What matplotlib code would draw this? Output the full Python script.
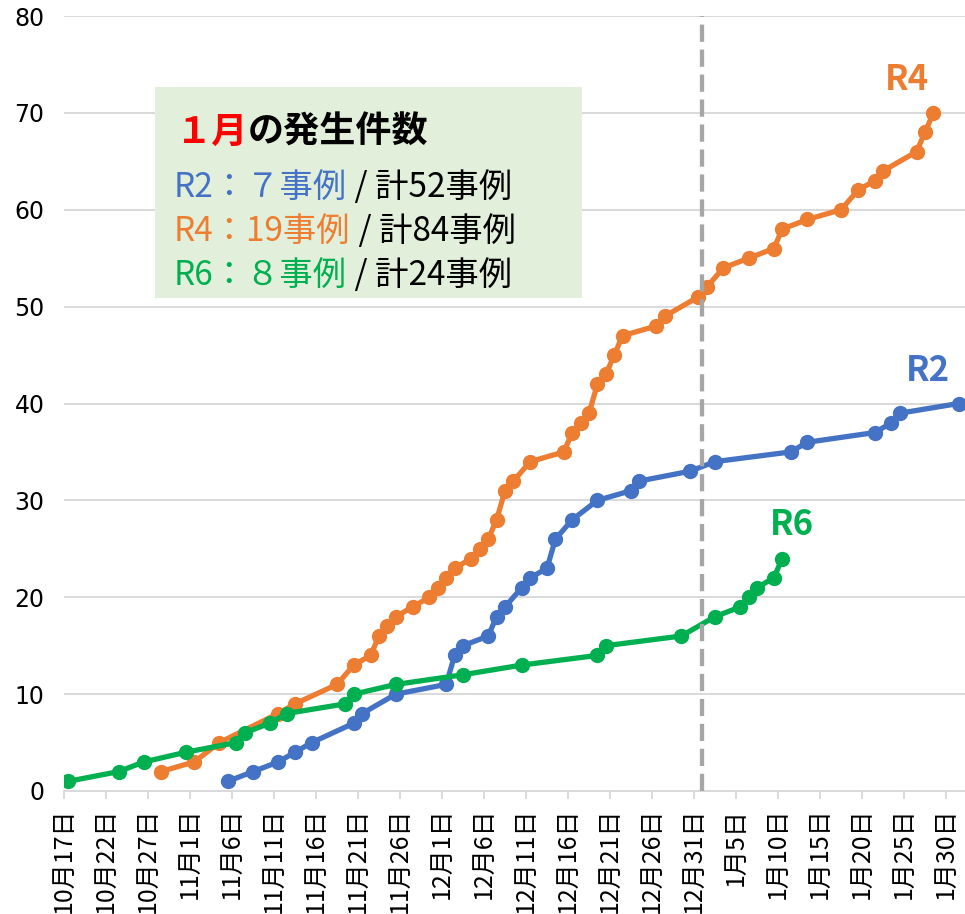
import datetime as dt
import numpy as np
import matplotlib
matplotlib.use("Agg")
import matplotlib.pyplot as plt

plt.rcParams['font.family'] = ['Noto Sans CJK JP', 'DejaVu Sans']

# day 0 = 10月17日 (year only used to roll over into January)
start = dt.date(2000, 10, 17)
tick_step = 5
n_ticks = 22

# days since 10月17日 and cumulative case counts
r2_days = [19, 22, 25, 27, 29, 34, 35, 39, 45, 46, 47, 50, 51, 52, 54, 55, 57, 58, 60,
           63, 67, 68, 74, 77, 86, 88, 96, 98, 99, 106]
r2_vals = [1, 2, 3, 4, 5, 7, 8, 10, 11, 14, 15, 16, 18, 19, 21, 22, 23, 26, 28,
           30, 31, 32, 33, 34, 35, 36, 37, 38, 39, 40]

r4_days = [11, 15, 18, 25, 27, 32, 34, 36, 37, 38, 39, 41, 43, 44, 45, 46, 48, 49, 50,
           51, 52, 53, 55, 59, 60, 61, 62, 63, 64, 65, 66, 70, 71, 75, 76, 78, 81, 84,
           85, 88, 92, 94, 96, 97, 101, 102, 103]
r4_vals = [2, 3, 5, 8, 9, 11, 13, 14, 16, 17, 18, 19, 20, 21, 22, 23, 24, 25, 26,
           28, 31, 32, 34, 35, 37, 38, 39, 42, 43, 45, 47, 48, 49, 51, 52, 54, 55, 56,
           58, 59, 60, 62, 63, 64, 66, 68, 70]

r6_days = [0, 6, 9, 14, 20, 21, 24, 26, 33, 34, 39, 47, 54, 63, 64, 73, 77, 80, 81,
           82, 84, 85]
r6_vals = [1, 2, 3, 4, 5, 6, 7, 8, 9, 10, 11, 12, 13, 14, 15, 16, 18, 19, 20, 21,
           22, 24]

series = [
    ('R2', r2_days, r2_vals, '#4472C4'),
    ('R4', r4_days, r4_vals, '#ED7D31'),
    ('R6', r6_days, r6_vals, '#00B050'),
]

tick_dates = [start + dt.timedelta(days=tick_step * i) for i in range(n_ticks)]
tick_labels = [f"{d.month}月{d.day}日" for d in tick_dates]
jan1 = (dt.date(2001, 1, 1) - start).days

W, H = 965, 914
fig = plt.figure(figsize=(W / 100, H / 100), dpi=100)
ax = fig.add_axes([64 / W, 1 - 791 / H, (964.5 - 64) / W, (791 - 16) / H])

grid_c = '#d9d9d9'
for name, days, vals, color in series:
    # each date sits in the middle of its day slot
    ax.plot(np.array(days) + 0.5, vals, color=color, lw=3.8, marker='o',
            markersize=10, solid_capstyle='round', zorder=3)

ax.axvline(jan1, color='#a6a6a6', lw=3.1, dashes=(4.0, 1.8), zorder=4)

ax.set_xlim(0, 107.2)
ax.set_ylim(0, 80)
ax.set_yticks(np.arange(0, 81, 10))
ax.set_xticks(np.arange(n_ticks) * tick_step)
ax.set_xticklabels(tick_labels, rotation=90, fontsize=18)
for lab in ax.get_yticklabels():
    lab.set_fontfamily('DejaVu Sans')
    lab.set_fontsize(17)
ax.tick_params(axis='y', length=0, pad=14)
ax.tick_params(axis='x', length=6, width=1.4, color=grid_c, pad=6)
ax.grid(axis='y', color=grid_c, lw=1.4)
ax.set_axisbelow(True)
for s in ['top', 'right', 'left']:
    ax.spines[s].set_visible(False)
ax.spines['bottom'].set_color(grid_c)
ax.spines['bottom'].set_linewidth(1.4)

# series labels
ax.text(100.4, 73.4, 'R4', color='#ED7D31', fontsize=25, fontweight='bold',
        ha='center', va='center')
ax.text(102.9, 43.4, 'R2', color='#4472C4', fontsize=25, fontweight='bold',
        ha='center', va='center')
ax.text(86.7, 27.5, 'R6', color='#00B050', fontsize=25, fontweight='bold',
        ha='center', va='center')

# info box
box = plt.Rectangle((155 / W, 1 - 298 / H), (582 - 155) / W, (298 - 87) / H,
                    transform=fig.transFigure, facecolor='#e2efda', edgecolor='none',
                    zorder=5)
fig.patches.append(box)

renderer = fig.canvas.get_renderer()


def rich_line(x_px, y_px, pieces, size, weight='normal'):
    x = x_px / W
    for txt, color in pieces:
        t = fig.text(x, 1 - y_px / H, txt, color=color, fontsize=size,
                     fontweight=weight, ha='left', va='baseline', zorder=6)
        bb = t.get_window_extent(renderer)
        x = bb.x1 / W


rich_line(176, 143, [('１月', '#FF0000'), ('の発生件数', '#000000')], 26, 'bold')
rich_line(174, 197, [('R2：７事例', '#4472C4'), (' / 計52事例', '#000000')], 24)
rich_line(174, 241, [('R4：19事例', '#ED7D31'), (' / 計84事例', '#000000')], 24)
rich_line(174, 285, [('R6：８事例', '#00B050'), (' / 計24事例', '#000000')], 24)

fig.savefig('out.png', dpi=100)
